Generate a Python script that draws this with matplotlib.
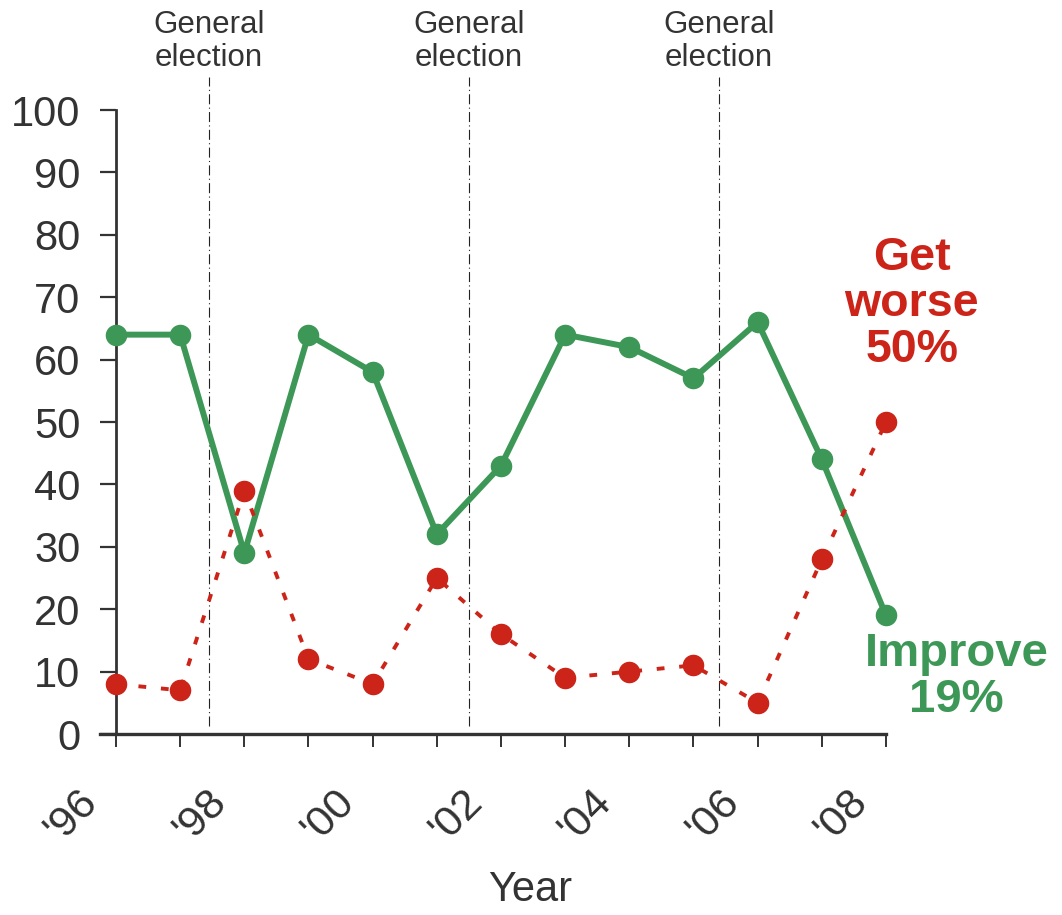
import matplotlib
matplotlib.use("Agg")
import matplotlib.pyplot as plt
from matplotlib.transforms import ScaledTranslation, blended_transform_factory

# ---- data ----
years = [1996, 1997, 1998, 1999, 2000, 2001, 2002, 2003, 2004, 2005, 2006, 2007, 2008]
improve = [64, 64, 29, 64, 58, 32, 43, 64, 62, 57, 66, 44, 19]
get_worse = [8, 7, 39, 12, 8, 25, 16, 9, 10, 11, 5, 28, 50]
election_years = [1997.45, 2001.5, 2005.4]
election_label = "General\nelection"
tick_years = [1996, 1998, 2000, 2002, 2004, 2006, 2008]
tick_labels = ["'96", "'98", "'00", "'02", "'04", "'06", "'08"]
y_ticks = [0, 10, 20, 30, 40, 50, 60, 70, 80, 90, 100]

GREEN = "#3d9857"
RED = "#cc2418"
DARK = "#333333"

plt.rcParams['font.family'] = ['Liberation Sans', 'DejaVu Sans']

fig = plt.figure(figsize=(10.62, 9.15), dpi=100)
ax = fig.add_axes([116/1062, 1 - 734/915, (886-116)/1062, (734-110)/915])

ax.plot(years, improve, color=GREEN, lw=4.3, marker='o', ms=14.5, clip_on=False, zorder=3)
ax.plot(years, get_worse, color=RED, lw=2.8, ls=(0, (2.0, 3.8)), marker='o', ms=14.5,
        clip_on=False, zorder=4)

ax.set_xlim(1996, 2008)
ax.set_ylim(0, 100)

# election lines
trans = blended_transform_factory(ax.transData, ax.transAxes)
for ey in election_years:
    ax.plot([ey, ey], [0.013, 1.053], transform=trans, color='#222222', lw=0.8,
            ls=(0, (9, 3, 1, 3)), clip_on=False, zorder=1)
    ax.text(ey, 1.11, election_label, transform=trans, ha='center', va='center',
            fontsize=22.5, color='#333333', linespacing=1.12)

# spines
for s in ['top', 'right']:
    ax.spines[s].set_visible(False)
ax.spines['left'].set_linewidth(2.0)
ax.spines['left'].set_color(DARK)
ax.spines['bottom'].set_linewidth(2.4)
ax.spines['bottom'].set_color(DARK)
ax.spines['bottom'].set_bounds(1996 - 16/(770/12), 2008)

ax.set_yticks(y_ticks)
ax.set_yticklabels([str(v) for v in y_ticks])
ax.tick_params(axis='y', length=11.5, width=1.6, color=DARK, pad=14, labelsize=30,
               labelcolor='#333333')

ax.set_xticks(years)
ax.set_xticklabels([''] * len(years))
ax.tick_params(axis='x', length=9.5, width=1.4, color=DARK, direction='out')

off = ScaledTranslation(-44/100, -81/100, fig.dpi_scale_trans)
tx = blended_transform_factory(ax.transData, ax.transAxes)
for yr, lab in zip(tick_years, tick_labels):
    ax.text(yr, 0, lab, transform=tx + off, rotation=45, rotation_mode='anchor',
            ha='center', va='center', fontsize=31, color='#333333')

fig.text(530/1062, 1 - 890/915, "Year", ha='center', va='center', fontsize=30, color='#333333')

# end labels
ax.text(2008.4, 68.9, "Get\nworse\n50%", ha='center', va='center', fontsize=33.5,
        fontweight='bold', color=RED, linespacing=1.06)
ax.text(2009.1, 9.2, "Improve\n19%", ha='center', va='center', fontsize=34,
        fontweight='bold', color=GREEN, linespacing=1.06)

fig.savefig("out.png", dpi=100)
